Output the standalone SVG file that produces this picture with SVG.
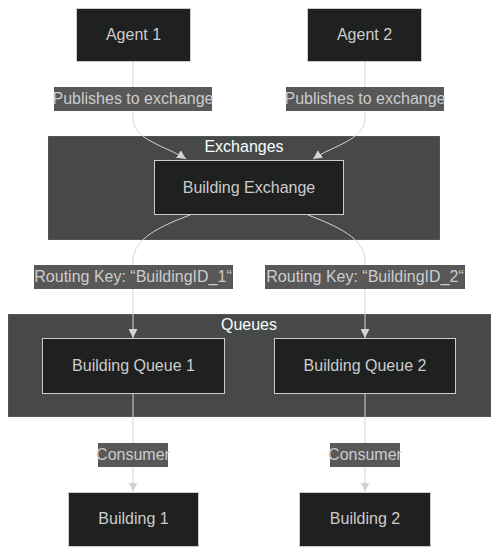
<svg xmlns="http://www.w3.org/2000/svg" width="498" height="554" viewBox="0 0 498 554">
<defs>
<style>
.node rect{fill:#1f2020;stroke:#cccccc;stroke-width:1}
.node text{fill:#cccccc;font-family:"Liberation Sans",Arial,sans-serif;font-size:16px;text-anchor:middle;dominant-baseline:central}
.cluster rect{fill:#474949;stroke:#555555;stroke-width:1}
.cluster text{fill:#f9fffe;font-family:"Liberation Sans",Arial,sans-serif;font-size:16px;text-anchor:middle;dominant-baseline:central}
.edges path{fill:none;stroke:#d3d3d3;stroke-width:1}
.elabel rect{fill:#585858;stroke:none}
.elabel text{fill:#cccccc;font-family:"Liberation Sans",Arial,sans-serif;font-size:16px;text-anchor:middle;dominant-baseline:central}
</style>
<marker id="arrow" viewBox="0 0 10 10" refX="10" refY="5" markerWidth="9" markerHeight="9" markerUnits="userSpaceOnUse" orient="auto">
<path d="M0,0 L10,5 L0,10 z" fill="#d3d3d3"/>
</marker>
</defs>
<rect x="0" y="0" width="498" height="554" fill="#ffffff"/>
<g id="cluster-exchanges" class="cluster">
<rect x="48.5" y="136.5" width="391" height="103"/>
<text x="244" y="146.5">Exchanges</text>
</g>
<g id="cluster-queues" class="cluster">
<rect x="8.5" y="314.5" width="482" height="102"/>
<text x="249" y="324.5">Queues</text>
</g>
<g id="edges" class="edges">
<path d="M133,61.5 L133,118 C133,140 166,146 186,159" marker-end="url(#arrow)"/>
<path d="M365,61.5 L365,118 C365,140 332,146 313,159" marker-end="url(#arrow)"/>
<path d="M190,215 C150,230 133,242 133,262 L133,338" marker-end="url(#arrow)"/>
<path d="M308,215 C348,230 365,242 365,262 L365,338" marker-end="url(#arrow)"/>
<path d="M133,393.5 L133,491.5" marker-end="url(#arrow)"/>
<path d="M365,393.5 L365,491.5" marker-end="url(#arrow)"/>
</g>
<g id="edge-labels">
<g class="elabel"><rect x="54" y="87" width="158" height="24"/><text x="133" y="98.5">Publishes to exchange</text></g>
<g class="elabel"><rect x="286" y="87" width="158" height="24"/><text x="365" y="98.5">Publishes to exchange</text></g>
<g class="elabel"><rect x="34" y="265" width="199" height="24"/><text x="133" y="276.5">Routing Key: “BuildingID_1“</text></g>
<g class="elabel"><rect x="265" y="265" width="200" height="24"/><text x="365" y="276.5">Routing Key: “BuildingID_2“</text></g>
<g class="elabel"><rect x="98" y="443" width="70" height="24"/><text x="133" y="454.5">Consumer</text></g>
<g class="elabel"><rect x="330" y="443" width="70" height="24"/><text x="365" y="454.5">Consumer</text></g>
</g>
<g id="agent1" class="node"><rect x="76.5" y="8.5" width="114" height="53"/><text x="133.5" y="34.5">Agent 1</text></g>
<g id="agent2" class="node"><rect x="307.5" y="8.5" width="114" height="53"/><text x="364.5" y="34.5">Agent 2</text></g>
<g id="exchange" class="node"><rect x="154.5" y="160.5" width="189" height="54"/><text x="249" y="187">Building Exchange</text></g>
<g id="queue1" class="node"><rect x="42.5" y="338.5" width="182" height="55"/><text x="133.5" y="365.5">Building Queue 1</text></g>
<g id="queue2" class="node"><rect x="274.5" y="338.5" width="181" height="55"/><text x="365" y="365.5">Building Queue 2</text></g>
<g id="building1" class="node"><rect x="68.5" y="492.5" width="130" height="54"/><text x="133.5" y="518.5">Building 1</text></g>
<g id="building2" class="node"><rect x="299.5" y="492.5" width="131" height="54"/><text x="365" y="518.5">Building 2</text></g>
</svg>
